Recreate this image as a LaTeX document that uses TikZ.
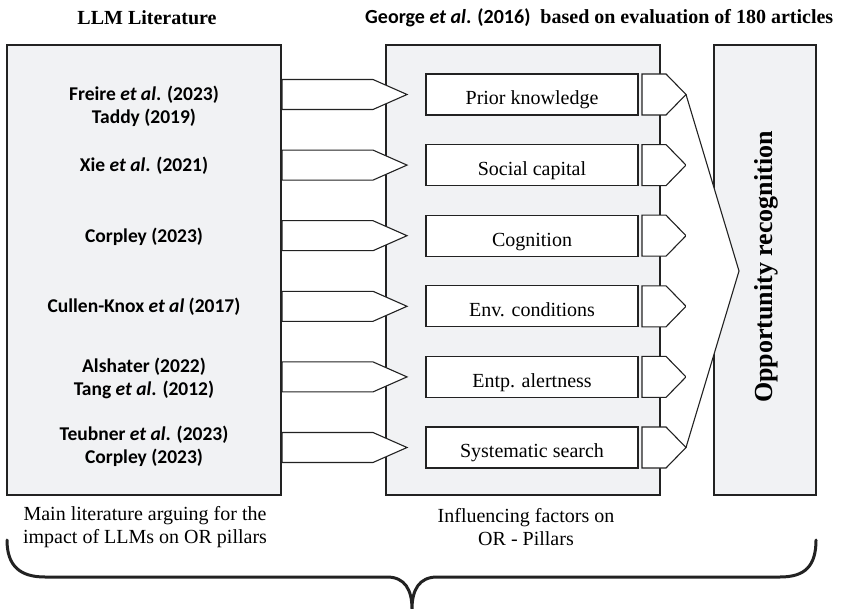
\documentclass[tikz,border=0pt]{standalone}
\usepackage{fontspec}
\setmainfont{Liberation Serif}
\newfontfamily\carl{Carlito}
\definecolor{boxgray}{HTML}{F1F2F4}
\definecolor{ink}{HTML}{222222}
\begin{document}
\begin{tikzpicture}[x=1pt,y=-1pt,
  panel/.style={draw=ink, fill=boxgray, line width=1.1pt, inner sep=0pt},
  factor/.style={draw=ink, fill=white, line width=1.1pt, minimum width=212pt, minimum height=41pt, inner sep=0pt},
  factortext/.style={inner sep=0pt, text height=13.2pt, text depth=0pt, font=\fontsize{20}{24}\selectfont},
  arrowshape/.style={draw=ink, fill=white, line width=1.1pt, line join=miter},
  littext/.style={font=\carl\bfseries\fontsize{19.5}{23.3}\selectfont, align=center, inner sep=0pt},
  note/.style={font=\fontsize{20}{23.5}\selectfont, align=center, inner sep=0pt},
  bracestyle/.style={draw=ink, line width=3pt, line cap=round}
]
\useasboundingbox (0,0) rectangle (842,609);

% titles
\node[font=\bfseries\fontsize{20}{24}\selectfont, inner sep=0pt] (t-lit) at (147,18) {LLM Literature};
\node[font=\fontsize{20}{24}\selectfont, inner sep=0pt, anchor=west] (t-george) at (365,18)
  {{\carl\bfseries George \textit{et al}. (2016)}\ \ \textbf{based on evaluation of 180 articles}};

% panels
\node[panel, minimum width=274pt, minimum height=450pt] (litbox) at (144,270) {};
\node[panel, minimum width=274pt, minimum height=450pt] (midbox) at (523,270) {};
\node[panel, minimum width=102pt, minimum height=450pt] (orbox) at (765,270) {};
\node[rotate=90, font=\bfseries\fontsize{26}{30}\selectfont, inner sep=0pt] (ortext) at (766,267) {Opportunity recognition};

% rows
\foreach \i/\t in {1/Prior knowledge, 2/Social capital, 3/Cognition, 4/Env. conditions, 5/Entp. alertness, 6/Systematic search} {
  \pgfmathsetmacro\r{94.5+70.6*(\i-1)}
  \draw[arrowshape] (282,\r-15) -- ++(91,0) -- ++(34,15) -- ++(-34,15) -- ++(-91,0) -- cycle;
  \node[factor] (f\i) at (532,\r) {};
  \node[factortext] (ft\i) at (532,\r+3.8) {\t};
  \draw[arrowshape] (642,\r-20.5) -- ++(24,0) -- ++(20,20.5) -- ++(-20,20.5) -- ++(-24,0) -- cycle;
  \coordinate (tip\i) at (686,\r);
}

% big chevron
\coordinate (apex) at (739,271);
\fill[white] (tip1) -- (apex) -- (tip6) -- cycle;
\draw[ink, line width=1.1pt, line join=miter] (tip1) -- (apex) -- (tip6);

% literature texts
\node[littext] (l1) at (144,106.2) {Freire \textit{et al}. (2023)\\Taddy (2019)};
\node[littext] (l2) at (144,166) {Xie \textit{et al}. (2021)};
\node[littext] (l3) at (144,236.5) {Corpley (2023)};
\node[littext] (l4) at (144,306.5) {Cullen-Knox \textit{et al} (2017)};
\node[littext] (l5) at (144,378.3) {Alshater (2022)\\Tang \textit{et al}. (2012)};
\node[littext] (l6) at (144,446.5) {Teubner \textit{et al}. (2023)\\Corpley (2023)};

% bottom notes
\node[note] (n1) at (145,527) {Main literature arguing for the\\impact of LLMs on OR pillars};
\node[note] (n2) at (526,527) {Influencing factors on\\OR - Pillars};

% brace
\draw[bracestyle] (7,540) .. controls (7,566) and (20,577) .. (45,577)
  -- (387,577) .. controls (405,577) and (412,590) .. (412,609)
  .. controls (412,590) and (419,577) .. (437,577)
  -- (780,577) .. controls (805,577) and (816,566) .. (816,540);
\end{tikzpicture}
\end{document}
